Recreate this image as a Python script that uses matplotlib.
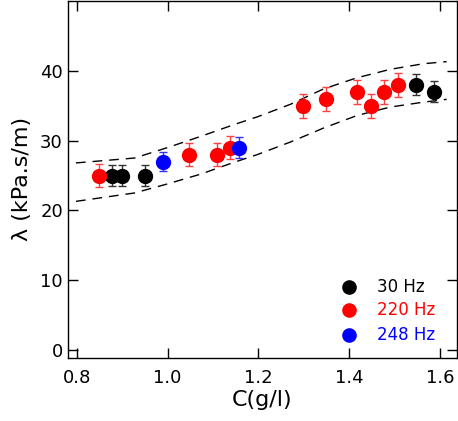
import numpy as np
import matplotlib
matplotlib.use('Agg')
import matplotlib.pyplot as plt

# datos por frecuencia
c_30 = [0.878, 0.900, 0.950, 1.548, 1.588]
l_30 = [25, 25, 25, 38, 37]
e_30 = [1.5, 1.5, 1.5, 1.5, 1.5]

c_220 = [0.849, 1.048, 1.108, 1.138, 1.299, 1.349, 1.418, 1.448, 1.478, 1.508]
l_220 = [25, 28, 28, 29, 35, 36, 37, 35, 37, 38]
e_220 = [1.7, 1.7, 1.7, 1.7, 1.7, 1.7, 1.7, 1.7, 1.7, 1.7]

c_248 = [0.990, 1.158]
l_248 = [27, 29]
e_248 = [1.4, 1.5]

# curvas limite (discontinuas)
c_up = [0.798, 0.927, 1.0, 1.073, 1.147, 1.198, 1.271, 1.344, 1.418, 1.491, 1.564, 1.615]
l_up = [26.8, 27.5, 29.0, 30.6, 32.3, 33.4, 35.2, 37.4, 39.0, 40.2, 41.0, 41.3]
c_lo = [0.798, 0.927, 1.0, 1.073, 1.147, 1.198, 1.271, 1.344, 1.418, 1.491, 1.564, 1.615]
l_lo = [21.3, 22.5, 23.8, 25.2, 26.9, 28.0, 29.8, 31.8, 33.6, 34.8, 35.5, 35.9]

fig = plt.figure(figsize=(4.58, 4.21), dpi=100)
ax = fig.add_axes([0.148, 0.150, 0.849, 0.848])

ax.plot(c_up, l_up, color='black', ls=(0, (7, 5)), lw=1.0)
ax.plot(c_lo, l_lo, color='black', ls=(0, (7, 5)), lw=1.0)

series = [
    (c_30, l_30, e_30, 'black', '#333333', '30 Hz'),
    (c_220, l_220, e_220, 'red', '#ff4040', '220 Hz'),
    (c_248, l_248, e_248, 'blue', '#3030ff', '248 Hz'),
]
for c, l, e, col, ecol, lab in series:
    ax.errorbar(c, l, yerr=e, fmt='o', color=col, ecolor=ecol, ms=10,
                elinewidth=1.0, capsize=3, capthick=1.0, zorder=3)

# leyenda manual
ly = [9.0, 5.7, 2.2]
for (c, l, e, col, ecol, lab), y in zip(series, ly):
    ax.plot([1.4], [y], 'o', color=col, ms=9.5)
    ax.text(1.462, y, lab, color=col, fontsize=12, va='center', ha='left')

ax.set_xlim(0.78, 1.637)
ax.set_ylim(-1.1, 50)
ax.set_xticks([0.8, 1.0, 1.2, 1.4, 1.6])
ax.set_yticks([0, 10, 20, 30, 40])
ax.tick_params(direction='in', top=True, right=True, length=7, width=1, labelsize=13)
ax.tick_params(axis='x', pad=8)
for s in ax.spines.values():
    s.set_linewidth(1.0)
ax.set_xlabel('C(g/l)', fontsize=16, labelpad=2)
ax.set_ylabel('λ (kPa.s/m)', fontsize=16, labelpad=6)

fig.savefig('out.png', dpi=100)
